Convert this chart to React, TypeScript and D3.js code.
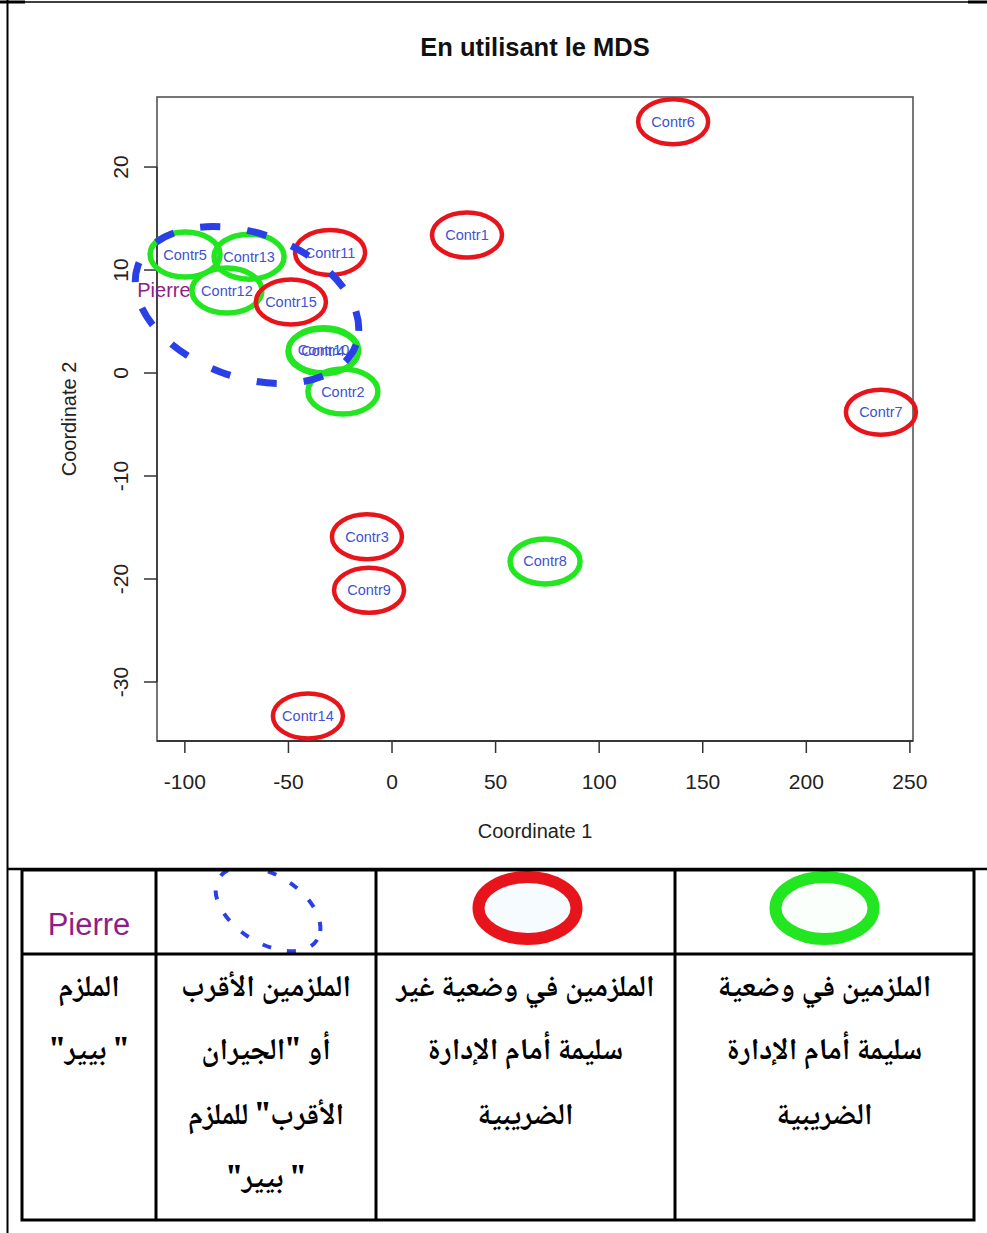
import React from 'react';
import * as d3 from 'd3';

// ---------- data ----------
const title = 'En utilisant le MDS';
const xAxisLabel = 'Coordinate 1';
const yAxisLabel = 'Coordinate 2';
const xTicks = [-100, -50, 0, 50, 100, 150, 200, 250];
const yTicks = [-30, -20, -10, 0, 10, 20];
const xDomain = [-113.45, 251.5];
const yDomain = [-35.73, 26.8];

const pointLabels = ['Contr1', 'Contr2', 'Contr3', 'Contr4', 'Contr5', 'Contr6', 'Contr7', 'Contr8', 'Contr9', 'Contr10', 'Contr11', 'Contr12', 'Contr13', 'Contr14', 'Contr15'];
const pointX = [36.2, -23.7, -12.1, -33.3, -99.9, 135.7, 236.0, 73.9, -11.1, -33.0, -29.9, -79.7, -69.0, -40.6, -48.8];
const pointY = [13.4, -1.8, -15.9, 2.1, 11.5, 24.4, -3.8, -18.3, -21.1, 2.2, 11.7, 8.0, 11.3, -33.3, 6.9];
// 'bad' = red circle (situation non saine), 'good' = green circle
const pointStatus = ['bad', 'good', 'bad', 'good', 'good', 'bad', 'bad', 'good', 'bad', 'good', 'bad', 'good', 'good', 'bad', 'bad'];

const referenceName = 'Pierre';
const referenceX = -110.1;
const referenceY = 8.1;
const neighbourCentreX = -70;
const neighbourCentreY = 6.6;

const legendHeaderPierre = 'Pierre';
const legendTexts = [
  ['الملزم', '" بيير"'],
  ['الملزمين الأقرب', 'أو "الجيران', 'الأقرب" للملزم', '" بيير"'],
  ['الملزمين في وضعية غير', 'سليمة أمام الإدارة', 'الضريبية'],
  ['الملزمين في وضعية', 'سليمة أمام الإدارة', 'الضريبية'],
];

// ---------- styles ----------
const RED = '#e8141c';
const GREEN = '#22e620';
const BLUE_DASH = '#2a40e6';
const LABEL_BLUE = '#4052d2';
const PURPLE = '#8e1e86';
const SANS = "'Liberation Sans', Arial, Helvetica, sans-serif";
const ARABIC = "'Noto Naskh Arabic', 'Noto Sans Arabic', 'DejaVu Sans', sans-serif";

export default function App() {
  const W = 987;
  const H = 1233;
  const plot = { left: 157, right: 913, top: 97, bottom: 741 };
  const x = d3.scaleLinear().domain(xDomain).range([plot.left, plot.right]);
  const y = d3.scaleLinear().domain(yDomain).range([plot.bottom, plot.top]);

  const points = pointLabels.map((l, i) => ({ label: l, x: x(pointX[i]), y: y(pointY[i]), status: pointStatus[i] }));

  const table = { left: 22, right: 974, top: 870, mid: 954, bottom: 1220 };
  const cols = [22, 156, 376, 675, 974];
  const lineBaselines = [996, 1059, 1124, 1187];

  const ncx = x(neighbourCentreX);
  const ncy = y(neighbourCentreY);

  return (
    <svg width={W} height={H} style={{ position: 'absolute', left: 0, top: 0, background: '#fff' }}>
      <rect x={0} y={0} width={W} height={H} fill="#fff" />
      {/* outer document frame */}
      <line x1={0} x2={W} y1={2} y2={2} stroke="#000" strokeWidth={1.5} />
      <line x1={0} x2={25} y1={2} y2={2} stroke="#000" strokeWidth={3} />
      <line x1={968} x2={W} y1={2} y2={2} stroke="#000" strokeWidth={3} />
      <line x1={7.5} x2={7.5} y1={0} y2={H} stroke="#000" strokeWidth={2} />
      <line x1={7} x2={W} y1={869} y2={869} stroke="#000" strokeWidth={2.5} />

      {/* title */}
      <text x={(plot.left + plot.right) / 2} y={56} textAnchor="middle" fontFamily={SANS} fontWeight="bold" fontSize={25.5} fill="#111">{title}</text>

      {/* box */}
      <rect x={plot.left} y={plot.top} width={plot.right - plot.left} height={plot.bottom - plot.top} fill="none" stroke="#555" strokeWidth={1.6} />
      <line x1={plot.left} x2={plot.right} y1={plot.bottom} y2={plot.bottom} stroke="#222" strokeWidth={1.6} />

      {/* x axis */}
      {xTicks.map((t) => (
        <g key={'xt' + t}>
          <line x1={x(t)} x2={x(t)} y1={plot.bottom} y2={plot.bottom + 12} stroke="#333" strokeWidth={1.5} />
          <text x={x(t)} y={789} textAnchor="middle" fontFamily={SANS} fontSize={21} fill="#222">{t}</text>
        </g>
      ))}
      <text x={(plot.left + plot.right) / 2} y={838} textAnchor="middle" fontFamily={SANS} fontSize={20} fill="#222">{xAxisLabel}</text>

      {/* y axis */}
      <line x1={plot.left} x2={plot.left} y1={y(yTicks[0])} y2={y(yTicks[yTicks.length - 1])} stroke="#333" strokeWidth={1.5} />
      {yTicks.map((t) => (
        <g key={'yt' + t}>
          <line x1={plot.left - 13} x2={plot.left} y1={y(t)} y2={y(t)} stroke="#333" strokeWidth={1.5} />
          <text transform={`translate(128,${y(t)}) rotate(-90)`} textAnchor="middle" fontFamily={SANS} fontSize={21} fill="#222">{t}</text>
        </g>
      ))}
      <text transform={`translate(76,${(plot.top + plot.bottom) / 2}) rotate(-90)`} textAnchor="middle" fontFamily={SANS} fontSize={20} fill="#222">{yAxisLabel}</text>

      {/* point labels */}
      {points.map((p) => (
        <text key={'lb' + p.label} x={p.x} y={p.y} textAnchor="middle" dominantBaseline="central" fontFamily={SANS} fontSize={14.5} fill={LABEL_BLUE}>{p.label}</text>
      ))}
      <text x={x(referenceX)} y={y(referenceY)} textAnchor="middle" dominantBaseline="central" fontFamily={SANS} fontSize={20} fill={PURPLE}>{referenceName}</text>

      {/* green circles */}
      {points.filter((p) => p.status === 'good').map((p) => (
        <ellipse key={'g' + p.label} cx={p.x} cy={p.y} rx={35} ry={22.5} fill="none" stroke={GREEN} strokeWidth={5.5} />
      ))}
      {/* red circles */}
      {points.filter((p) => p.status === 'bad').map((p) => (
        <ellipse key={'r' + p.label} cx={p.x} cy={p.y} rx={35} ry={22.5} fill="none" stroke={RED} strokeWidth={4.5} />
      ))}
      {/* nearest neighbours */}
      <ellipse cx={0} cy={0} rx={116} ry={72} transform={`translate(${ncx},${ncy}) rotate(20)`} fill="none" stroke={BLUE_DASH} strokeWidth={7} strokeDasharray="20 27" />

      {/* legend table */}
      <defs>
        <clipPath id="cell2"><rect x={cols[1]} y={table.top} width={cols[2] - cols[1]} height={table.mid - table.top} /></clipPath>
      </defs>
      <text x={(cols[0] + cols[1]) / 2} y={935} textAnchor="middle" fontFamily={SANS} fontSize={31} fill={PURPLE}>{legendHeaderPierre}</text>
      <g clipPath="url(#cell2)">
        <ellipse cx={0} cy={0} rx={58} ry={34} transform={`translate(268,909) rotate(32)`} fill="none" stroke={BLUE_DASH} strokeWidth={4} strokeDasharray="9 16" />
      </g>
      <ellipse cx={(cols[2] + cols[3]) / 2 + 2} cy={908} rx={49} ry={31} fill="#f6fbff" stroke={RED} strokeWidth={12} />
      <ellipse cx={(cols[3] + cols[4]) / 2} cy={908} rx={49} ry={31} fill="#fbfffb" stroke={GREEN} strokeWidth={12} />

      {legendTexts.map((lines, ci) => (
        <g key={'lt' + ci}>
          {lines.map((s, li) => (
            <text key={li} x={(cols[ci] + cols[ci + 1]) / 2} y={lineBaselines[li]} textAnchor="middle" direction="rtl" fontFamily={ARABIC} fontWeight="bold" fontSize={30} fill="#000">{s}</text>
          ))}
        </g>
      ))}

      <rect x={table.left} y={table.top} width={table.right - table.left} height={table.bottom - table.top} fill="none" stroke="#000" strokeWidth={3} />
      <line x1={table.left} x2={table.right} y1={table.mid} y2={table.mid} stroke="#000" strokeWidth={3} />
      {cols.slice(1, 4).map((c) => (
        <line key={'c' + c} x1={c} x2={c} y1={table.top} y2={table.bottom} stroke="#000" strokeWidth={3} />
      ))}
    </svg>
  );
}
